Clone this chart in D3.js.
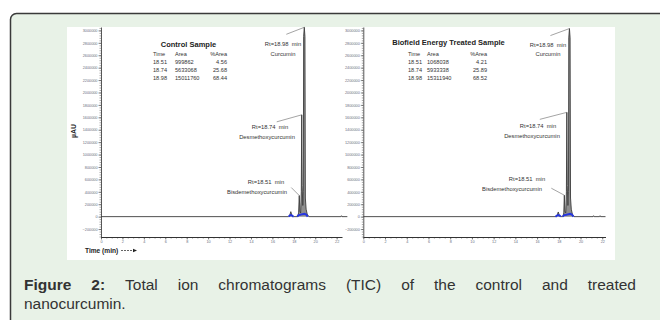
<!DOCTYPE html>
<html>
<head>
<meta charset="utf-8">
<script src="https://cdn.jsdelivr.net/npm/d3@7"></script>
<style>
  body { margin: 0; background: #fff; }
  svg { display: block; }
  text { font-family: "Liberation Sans", Arial, sans-serif; }
</style>
</head>
<body>
<svg width="660" height="320"></svg>
<script>
// ---- data (time in min, response in µAU) ----
var controlTime   = [0, 17.50, 17.62, 17.72, 17.82, 17.95, 18.35, 18.45, 18.51, 18.57, 18.64, 18.70, 18.74, 18.78, 18.84, 18.89, 18.92, 18.98, 19.04, 19.08, 19.15, 19.25, 19.40, 22.40, 22.45, 22.50, 23.0];
var controlSignal = [0, 0, 20000, 80000, 20000, 0, 0, 60000, 340000, 90000, 60000, 400000, 1640000, 500000, 180000, 400000, 2900000, 3050000, 2900000, 300000, 120000, 40000, 0, 0, 15000, 0, 0];

var treatedTime   = [0, 17.75, 17.85, 17.95, 18.05, 18.15, 18.38, 18.46, 18.51, 18.56, 18.64, 18.70, 18.74, 18.78, 18.84, 18.89, 18.92, 18.98, 19.04, 19.08, 19.15, 19.25, 19.40, 21.15, 21.20, 21.25, 21.75, 21.80, 21.85, 22.3];
var treatedSignal = [0, 0, 20000, 75000, 20000, 0, 0, 60000, 345000, 90000, 60000, 400000, 1680000, 500000, 180000, 400000, 2880000, 3030000, 2880000, 300000, 120000, 40000, 0, 0, 15000, 0, 0, 15000, 0, 0];

// blue integration marks at the peak bases (null = gap)
var controlMarkTime   = [17.52, 17.62, 17.72, 17.85, 17.97, null, 18.32, 18.45, 18.60, 18.80, 19.00, 19.15, 19.30];
var controlMarkSignal = [0, 18000, 25000, 18000, 0, null, 0, 25000, 30000, 40000, 45000, 35000, 0];
var treatedMarkTime   = [17.70, 17.82, 17.95, 18.08, 18.18, null, 18.35, 18.50, 18.70, 18.90, 19.05, 19.20, 19.35];
var treatedMarkSignal = [0, 18000, 25000, 18000, 0, null, 0, 25000, 30000, 40000, 45000, 35000, 0];

var peakTimes = [18.51, 18.74, 18.98];
var peakNames = ["Bisdemethoxycurcumin", "Desmethoxycurcumin", "Curcumin"];
var controlArea = ["999862", "5633068", "15011760"];
var controlPct  = ["4.56", "25.68", "68.44"];
var treatedArea = ["1068038", "5933338", "15311940"];
var treatedPct  = ["4.21", "25.89", "68.52"];

var yTicks = d3.range(-200000, 3000001, 200000);
var yMinor = d3.range(-320000, 3050001, 40000);
var xTicks = d3.range(0, 23, 2);
var xMinor = d3.range(0, 22.3, 0.5);

var captionWords = ["Figure", "2:", "Total", "ion", "chromatograms", "(TIC)", "of", "the", "control", "and", "treated"];
var captionLine2 = "nanocurcumin.";

var svg = d3.select("svg");

// frame
svg.append("rect")
   .attr("x", 10.5).attr("y", 13.5)
   .attr("width", 700).attr("height", 400)
   .attr("rx", 6)
   .attr("fill", "#e8f2e7")
   .attr("stroke", "#3a3a3a")
   .attr("stroke-width", 1.5);

svg.append("rect")
   .attr("x", 67).attr("y", 27)
   .attr("width", 548).attr("height", 233)
   .attr("fill", "#fff");

var panels = [
  { time: controlTime, signal: controlSignal, markT: controlMarkTime, markS: controlMarkSignal,
    x0: 101, x1: 342, xmax: 22.5, title: "Control Sample", titleX: 188.5, titleY: 46.5,
    area: controlArea, pct: controlPct, colT: 153, colA: 175, colP: 227,
    labels: [ {rx: 266, ry: 183.5, nx: 257, ny: 194, lx: -8, ly: -8},
              {rx: 270, ry: 129, nx: 267, ny: 139, lx: -25, ly: 7},
              {rx: 283, ry: 45.5, nx: 283, ny: 55.5, lx: -18, ly: 7} ] },
  { time: treatedTime, signal: treatedSignal, markT: treatedMarkTime, markS: treatedMarkSignal,
    x0: 363.3, x1: 605.5, xmax: 22.3, title: "Biofield Energy Treated Sample", titleX: 448.5, titleY: 44.5,
    area: treatedArea, pct: treatedPct, colT: 408, colA: 427, colP: 487,
    labels: [ {rx: 527, ry: 180.5, nx: 512, ny: 190.5, lx: -13, ly: -7},
              {rx: 538, ry: 128, nx: 532, ny: 137.5, lx: -27, ly: 7},
              {rx: 548, ry: 47, nx: 548, ny: 55.5, lx: -19, ly: 7} ] }
];

panels.forEach(function(p) {
  var scaleX = d3.scaleLinear().domain([0, p.xmax]).range([p.x0, p.x1]);
  var scaleY = d3.scaleLinear().domain([-328000, 3055000]).range([237, 27]);
  var g = svg.append("g");

  // y axis: minor then major
  g.append("g").attr("transform", "translate(" + p.x0 + ",0)")
   .call(d3.axisLeft(scaleY).tickValues(yMinor).tickSize(1.5).tickFormat(""))
   .call(function(a) { a.select(".domain").remove(); a.selectAll("line").attr("stroke", "#555").attr("stroke-width", 0.5); });
  g.append("g").attr("transform", "translate(" + p.x0 + ",0)")
   .call(d3.axisLeft(scaleY).tickValues(yTicks).tickSize(2.5).tickPadding(1).tickSizeOuter(0).tickFormat(d3.format("d")))
   .call(function(a) {
     a.select(".domain").attr("stroke", "#444").attr("stroke-width", 0.9);
     a.selectAll("line").attr("stroke", "#444").attr("stroke-width", 0.6);
     a.selectAll("text").attr("font-size", 3.8).attr("fill", "#6a6f80").attr("font-family", "Liberation Sans, Arial, sans-serif");
   });

  // x axis
  g.append("g").attr("transform", "translate(0,237)")
   .call(d3.axisBottom(scaleX).tickValues(xMinor).tickSize(1.5).tickFormat(""))
   .call(function(a) { a.select(".domain").remove(); a.selectAll("line").attr("stroke", "#444").attr("stroke-width", 0.6); });
  g.append("g").attr("transform", "translate(0,237)")
   .call(d3.axisBottom(scaleX).tickValues(xTicks).tickSize(2.5).tickPadding(1).tickSizeOuter(0))
   .call(function(a) {
     a.select(".domain").attr("stroke", "#333").attr("stroke-width", 1);
     a.selectAll("line").attr("stroke", "#333").attr("stroke-width", 0.6);
     a.selectAll("text").attr("font-size", 3.8).attr("fill", "#6a6f80").attr("font-family", "Liberation Sans, Arial, sans-serif");
   });

  // trace
  var pts = p.time.map(function(t, i) { return [t, p.signal[i]]; });
  g.append("path")
   .datum(pts)
   .attr("d", d3.area().x(function(d) { return scaleX(d[0]); }).y0(scaleY(0)).y1(function(d) { return scaleY(d[1]); }))
   .attr("fill", "#8e8e8e");
  g.append("path")
   .datum(pts)
   .attr("d", d3.line().x(function(d) { return scaleX(d[0]); }).y(function(d) { return scaleY(d[1]); }))
   .attr("fill", "none")
   .attr("stroke", "#3c3c3c")
   .attr("stroke-width", 0.9);

  // integration marks
  var marks = p.markT.map(function(t, i) { return [t, p.markS[i]]; });
  g.append("path")
   .datum(marks)
   .attr("d", d3.line().defined(function(d) { return d[0] !== null; })
                 .x(function(d) { return scaleX(d[0]); }).y(function(d) { return scaleY(d[1]); }))
   .attr("fill", "none")
   .attr("stroke", "#2636e0")
   .attr("stroke-width", 2);

  // title + table
  g.append("text").attr("x", p.titleX).attr("y", p.titleY)
   .attr("text-anchor", "middle").attr("font-size", 7.5).attr("font-weight", "bold").attr("fill", "#222")
   .text(p.title);
  var tbl = g.append("g").attr("font-size", 5.6).attr("fill", "#333");
  tbl.append("text").attr("x", p.colT).attr("y", 56).text("Time");
  tbl.append("text").attr("x", p.colA).attr("y", 56).text("Area");
  tbl.append("text").attr("x", p.colP).attr("y", 56).attr("text-anchor", "end").text("%Area");
  peakTimes.forEach(function(t, i) {
    var yy = 64 + i * 8;
    tbl.append("text").attr("x", p.colT).attr("y", yy).text(t.toFixed(2));
    tbl.append("text").attr("x", p.colA).attr("y", yy).text(p.area[i]);
    tbl.append("text").attr("x", p.colP).attr("y", yy).attr("text-anchor", "end").text(p.pct[i]);
  });

  // peak labels with leader lines
  peakTimes.forEach(function(t, i) {
    var k = p.time.indexOf(t);
    var px = scaleX(t), py = scaleY(p.signal[k]);
    var L = p.labels[i];
    g.append("line")
     .attr("x1", px + L.lx).attr("y1", py + L.ly)
     .attr("x2", px).attr("y2", py)
     .attr("stroke", "#666").attr("stroke-width", 0.6);
    g.append("text").attr("x", L.rx).attr("y", L.ry).attr("text-anchor", "middle")
     .attr("font-size", 5.8).attr("fill", "#333").attr("xml:space", "preserve")
     .text("Rt=" + t.toFixed(2) + "  min");
    g.append("text").attr("x", L.nx).attr("y", L.ny).attr("text-anchor", "middle")
     .attr("font-size", 5.8).attr("fill", "#333")
     .text(peakNames[i]);
  });
});

// axis titles
svg.append("text")
   .attr("transform", "translate(76,131) rotate(-90)")
   .attr("text-anchor", "middle").attr("font-size", 7).attr("font-weight", "bold").attr("fill", "#222")
   .text("µAU");
svg.append("text")
   .attr("x", 85).attr("y", 252.5)
   .attr("font-size", 6.6).attr("font-weight", "bold").attr("fill", "#222")
   .text("Time (min)");
svg.append("line")
   .attr("x1", 121).attr("y1", 250.5).attr("x2", 134).attr("y2", 250.5)
   .attr("stroke", "#222").attr("stroke-width", 0.7).attr("stroke-dasharray", "2,1");
svg.append("path")
   .attr("d", "M133,248.8 L137,250.5 L133,252.2 Z")
   .attr("fill", "#222");

// caption, justified first line
var capG = svg.append("g").attr("font-size", 15.5).attr("fill", "#333");
var widths = captionWords.map(function(w, i) {
  var t = capG.append("text").attr("font-weight", i < 2 ? "bold" : "normal").text(w);
  var wd = t.node().getComputedTextLength();
  t.remove();
  return wd;
});
var gap = (636 - 24 - d3.sum(widths)) / (captionWords.length - 1);
var cx = 24;
captionWords.forEach(function(w, i) {
  capG.append("text").attr("x", cx).attr("y", 290)
      .attr("font-weight", i < 2 ? "bold" : "normal").text(w);
  cx += widths[i] + gap;
});
capG.append("text").attr("x", 24).attr("y", 309).text(captionLine2);
</script>
</body>
</html>
